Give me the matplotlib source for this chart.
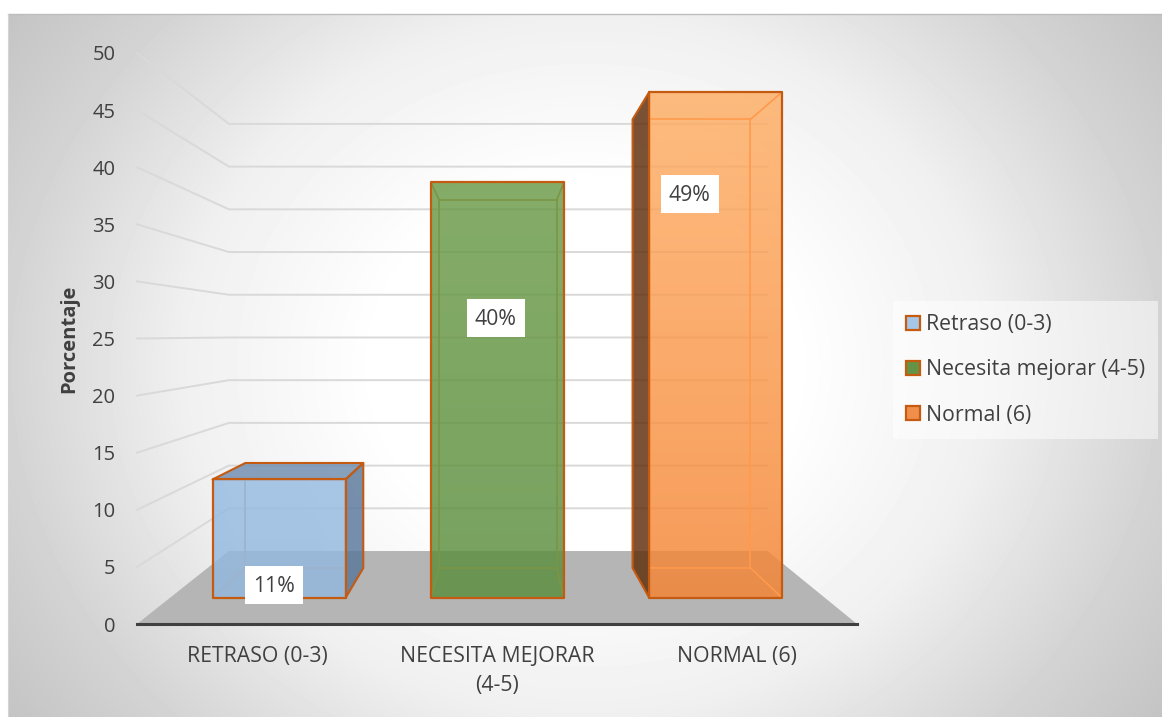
import numpy as np
import matplotlib
matplotlib.use("Agg")
import matplotlib.pyplot as plt
from matplotlib.patches import Polygon, Patch, Rectangle
from matplotlib.transforms import Affine2D

# ---- data ----
categories = ["RETRASO (0-3)", "NECESITA MEJORAR\n(4-5)", "NORMAL (6)"]
series_names = ["Retraso (0-3)", "Necesita mejorar (4-5)", "Normal (6)"]
values = [11.4, 40.0, 48.7]
pct_labels = ["11%", "40%", "49%"]
y_ticks = list(range(0, 55, 5))

# ---- style ----
W, H = 1162, 717
plt.rcParams["font.family"] = ["Open Sans", "DejaVu Sans"]
TXT = "#404040"
EDGE = "#c55a11"
FS_TICK = 14.5
FS_TEXT = 15.3
front_top = ["#96bbe2", "#6a9a47", "#ffae64"]
front_bot = ["#92b8df", "#5a8d3c", "#f58433"]
side_col = ["#59779a", "#5f8a3f", "#5e2c08"]
top_col = ["#6e8caf", "#70a04f", "#ffad66"]
inner_line = ["#9db3cc", "#7b9545", "#ff9a4d"]
legend_fill = ["#a6c6e8", "#639445", "#f28e4c"]
ALPHA = 0.82
label_offsets = [(-5.5, 106), (-1.5, 136), (-26, 102.5)]

# depth model (s = 1 at axis plane)
S_BACK, S_FRONT, S_REAR = 0.748, 0.910, 0.8067
C0, HORIZON = 1.02, 25.36
BAR_W = 0.609


def proj(c, v, s):
    return (C0 + s * (c - C0), s * v + HORIZON * (1 - s))


fig = plt.figure(figsize=(W / 100, H / 100), dpi=100, facecolor="white")

# panel background with radial gradient
px0, py0, px1, py1 = 8, 14, 1162, 717
bg = fig.add_axes([px0 / W, 1 - py1 / H, (px1 - px0) / W, (py1 - py0) / H], zorder=0)
yy, xx = np.mgrid[py0:py1, px0:px1]
d = np.sqrt(((xx - 585) / 577.0) ** 2 + ((yy - 365) / 500.0) ** 2)
g = np.interp(d, [0.0, 0.36, 0.7, 1.0, 1.25], [1.0, 1.0, 0.94, 0.83, 0.76])
bg.imshow(g, cmap="gray", vmin=0, vmax=1, aspect="auto", interpolation="bilinear")
bg.set_axis_off()
fig.add_artist(plt.Line2D([px0 / W, 1], [1 - py0 / H] * 2, color="#bdbdbd", lw=1))
fig.add_artist(plt.Line2D([px0 / W] * 2, [1 - py0 / H, 0], color="#d4d4d4", lw=0.8))

# main axes: the front plane of the 3-D box
ax = fig.add_axes([137 / W, 1 - 624 / H, 720 / W, 571 / H], zorder=2)
ax.patch.set_visible(False)
ax.set_xlim(-0.5, 2.5)
ax.set_ylim(0, 50)
ax.set_xticks(range(3))
ax.set_xticklabels(categories, fontsize=FS_TEXT, color=TXT, linespacing=1.55)
ax.set_yticks(y_ticks)
ax.tick_params(axis="y", length=0, pad=15.5, labelsize=FS_TICK, labelcolor=TXT)
ax.tick_params(axis="x", length=0, pad=15.5, labelcolor=TXT)
for sp in ("left", "right", "top"):
    ax.spines[sp].set_visible(False)
ax.spines["bottom"].set_linewidth(2.2)
ax.spines["bottom"].set_color("#404040")
ax.spines["bottom"].set_zorder(6)
ax.set_ylabel("Porcentaje", fontsize=14.5, fontweight="bold", color=TXT, labelpad=0)
ax.yaxis.set_label_coords(-0.0805, 0.5)

# floor
ax.add_patch(Polygon([proj(-0.5, 0, 1), proj(2.5, 0, 1), proj(2.5, 0, S_BACK), proj(-0.5, 0, S_BACK)],
                     closed=True, fc="#b5b5b5", ec="none", zorder=1, clip_on=False))
# grid on left and back walls
for v in y_ticks[1:]:
    pts = [proj(-0.5, v, 1), proj(-0.5, v, S_BACK), proj(2.5, v, S_BACK)]
    ax.plot(*zip(*pts), color="#d9d9d9", lw=1.4, zorder=1.5, clip_on=False, solid_joinstyle="miter")


def face(pts, fc, z, alpha=ALPHA, lw=1.5):
    r, g_, b = matplotlib.colors.to_rgb(fc)
    ax.add_patch(Polygon(pts, closed=True, fc=(r, g_, b, alpha), ec=EDGE, lw=lw, zorder=z,
                         clip_on=False, joinstyle="round"))


for i, v in enumerate(values):
    c0, c1 = i - BAR_W / 2, i + BAR_W / 2
    z = 2 + i
    fbl, fbr = proj(c0, 0, S_FRONT), proj(c1, 0, S_FRONT)
    ftl, ftr = proj(c0, v, S_FRONT), proj(c1, v, S_FRONT)
    rbl, rbr = proj(c0, 0, S_REAR), proj(c1, 0, S_REAR)
    rtl, rtr = proj(c0, v, S_REAR), proj(c1, v, S_REAR)
    # faces that stick out beyond the front face are opaque-ish and dark
    if rtl[1] > ftl[1]:
        face([ftl, ftr, rtr, rtl], top_col[i], z + 0.02, lw=1.5)
    if rbl[0] < fbl[0]:
        face([fbl, ftl, rtl, rbl], side_col[i], z + 0.03, lw=1.5)
    if rbr[0] > fbr[0]:
        face([fbr, ftr, rtr, rbr], side_col[i], z + 0.04, lw=1.5)
    # front face with a vertical gradient
    c_top, c_bot = (np.array(matplotlib.colors.to_rgb(c)) for c in (front_top[i], front_bot[i]))
    t = np.linspace(0, 1, 512)[:, None, None]
    grad = c_top[None, None, :] * (1 - t) + c_bot[None, None, :] * t
    ax.imshow(grad, extent=(fbl[0], fbr[0], fbl[1], ftl[1]), origin="upper", aspect="auto",
              alpha=ALPHA, zorder=z + 0.05, clip_on=False, interpolation="bilinear")
    front_outline = Polygon([fbl, fbr, ftr, ftl], closed=True, fc="none", ec=EDGE, lw=1.6,
                            zorder=z + 0.07, clip_on=False, joinstyle="round")
    ax.add_patch(front_outline)
    # edges of the box seen through the front face
    for a, b in [(rbl, rbr), (rbr, rtr), (rtr, rtl), (rtl, rbl),
                 (fbl, rbl), (fbr, rbr), (ftl, rtl), (ftr, rtr)]:
        ln, = ax.plot([a[0], b[0]], [a[1], b[1]], color=inner_line[i], lw=1.2, zorder=z + 0.06)
        ln.set_clip_path(front_outline)
    # data label anchored on the top centre of the front face
    ax_pt = ax.transData.transform(proj(i, v, S_FRONT))
    dx, dy = label_offsets[i]
    tr = Affine2D().translate(ax_pt[0] + dx, ax_pt[1] - dy)
    ax.add_patch(Rectangle((-29, -19), 58, 38, transform=tr, fc="white", ec="none", zorder=8, clip_on=False))
    ax.annotate(pct_labels[i], xy=proj(i, v, S_FRONT), xycoords="data",
                xytext=(dx * 0.72, -(dy + 1) * 0.72), textcoords="offset points",
                ha="center", va="center", fontsize=FS_TEXT, color=TXT, zorder=9)

ax.set_xlim(-0.5, 2.5)
ax.set_ylim(0, 50)

# legend
handles = [Patch(fc=c, ec=EDGE, lw=1.6) for c in legend_fill]
leg = fig.legend(handles, series_names, loc="center left", bbox_to_anchor=(893 / W, 1 - 370 / H),
                 fontsize=FS_TEXT, frameon=True, fancybox=False, framealpha=0.5, facecolor="white",
                 edgecolor="none", handlelength=0.66, handleheight=0.66, handletextpad=0.28,
                 labelspacing=1.14, borderpad=0.61, borderaxespad=0, labelcolor=TXT)
leg.set_zorder(3)

fig.savefig("out.png", dpi=100)
